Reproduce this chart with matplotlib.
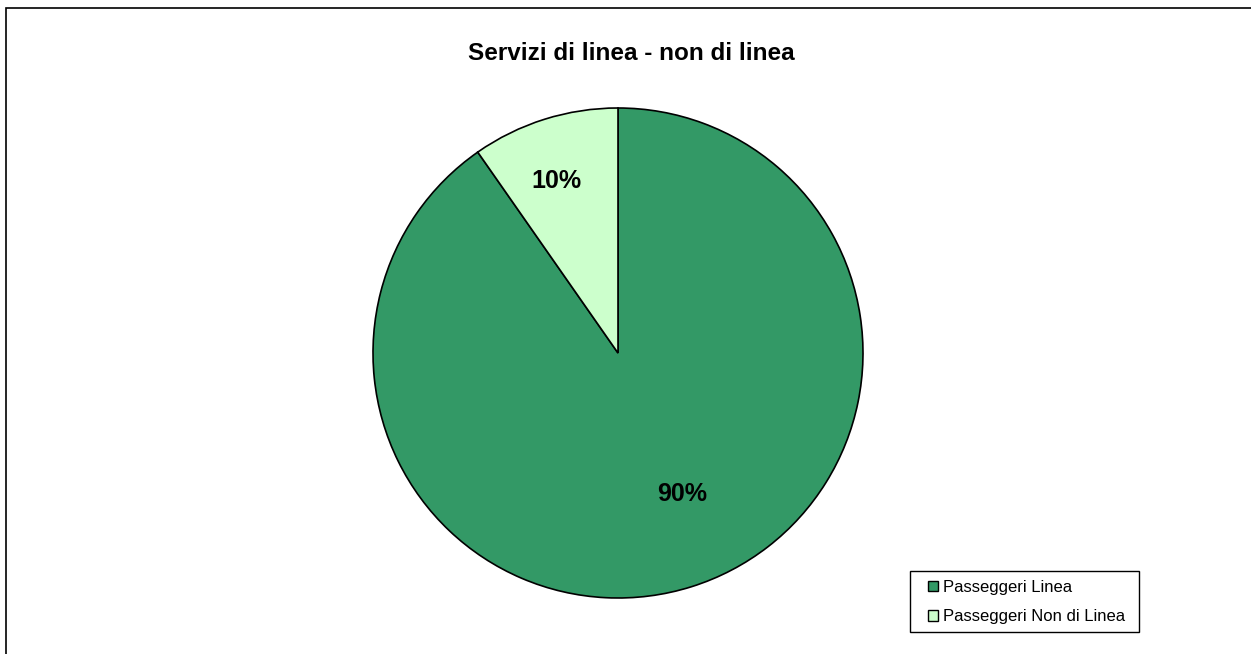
import matplotlib.pyplot as plt
from matplotlib.patches import Rectangle, Patch
import numpy as np

plt.rcParams['font.family'] = ['Liberation Sans', 'DejaVu Sans']

categorie = ['Passeggeri Linea', 'Passeggeri Non di Linea']
valori = [90.3, 9.7]
etichette = ['90%', '10%']
colori = ['#339966', '#CCFFCC']

W, H = 1251, 654
fig = plt.figure(figsize=(W / 100, H / 100), dpi=100)

# bordo del grafico (tagliato a destra e in basso come nell'originale)
fig.patches.append(Rectangle((6 / W, -0.1), 1.2, (H - 8) / H + 0.1,
                             transform=fig.transFigure, fill=False,
                             edgecolor='black', linewidth=1.2))

cx, cy, r = 618, H - 353, 245
ax = fig.add_axes([(cx - r) / W, (cy - r) / H, 2 * r / W, 2 * r / H])
wedges, _ = ax.pie(valori, colors=colori, startangle=90, counterclock=False,
                   radius=1, wedgeprops=dict(edgecolor='black', linewidth=1.2))
ax.set_xlim(-1, 1)
ax.set_ylim(-1, 1)
ax.set_aspect('equal')
ax.axis('off')

# posizione delle percentuali (distanza dal centro, scostamento angolare)
distanze = [0.63, 0.747]
scarti = [6.9, 2.3]
for w, lab, d, s in zip(wedges, etichette, distanze, scarti):
    ang = np.deg2rad((w.theta1 + w.theta2) / 2 + s)
    ax.text(d * np.cos(ang), d * np.sin(ang), lab, ha='center', va='center',
            fontsize=18, fontweight='bold')

fig.text(631 / W, 1 - 53 / H, 'Servizi di linea - non di linea', ha='center',
         va='center', fontsize=17.5, fontweight='bold')

# riquadro della legenda
fig.patches.append(Rectangle((910 / W, 1 - 632 / H), 229 / W, 61 / H,
                             transform=fig.transFigure, fill=False,
                             edgecolor='black', linewidth=1.0))
handles = [Patch(facecolor=c, edgecolor='black', label=l) for c, l in zip(colori, categorie)]
leg = fig.legend(handles=handles, loc='upper left',
                 bbox_to_anchor=(928 / W, 1 - 580 / H), fontsize=12,
                 frameon=False, handlelength=0.6, handleheight=0.6,
                 handletextpad=0.3, borderpad=0, borderaxespad=0,
                 labelspacing=0.85)

fig.savefig('out.png', dpi=100)
